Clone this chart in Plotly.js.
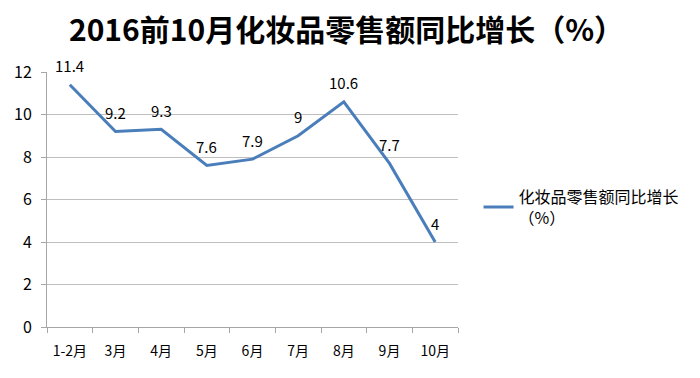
<!DOCTYPE html>
<html><head><meta charset="utf-8">
<script src="https://cdn.plot.ly/plotly-3.0.1.min.js"></script>
<style>html,body{margin:0;padding:0;background:#fff}</style>
</head><body>
<div id="chart" style="width:700px;height:378px"></div>
<script>
const categories = ['1-2月','3月','4月','5月','6月','7月','8月','9月','10月'];
const values = [11.4, 9.2, 9.3, 7.6, 7.9, 9, 10.6, 7.7, 4];
const labels = ['11.4','9.2','9.3','7.6','7.9','9','10.6','7.7','4'];
const seriesName = '化妆品零售额同比增长<br>（%）';
const yTicks = [0,2,4,6,8,10,12];

const font = '"Noto Sans CJK SC", "Noto Sans", sans-serif';
const trace = {
  type: 'scatter', mode: 'lines',
  x: categories, y: values,
  line: {color: '#4a7ebb', width: 3},
  name: seriesName, cliponaxis: false
};
const annotations = categories.map((c, i) => ({
  x: c, y: values[i], text: labels[i], showarrow: false, yshift: 19,
  font: {family: font, size: 15, color: '#000'}
}));
const layout = {
  width: 700, height: 378,
  margin: {l: 47, r: 242, t: 72, b: 51},
  paper_bgcolor: '#fff', plot_bgcolor: '#fff',
  title: {text: '<b>2016前10月化妆品零售额同比增长（%）</b>', x: 0.495, xanchor: 'center', y: 0.92, yanchor: 'middle',
          font: {family: font, size: 30, color: '#000'}},
  annotations: annotations,
  xaxis: {type: 'category', range: [-0.5, 8.5], showgrid: false, showline: true, linecolor: '#a6a6a6',
          ticks: 'outside', ticklen: 5, tickcolor: '#a6a6a6', tickson: 'boundaries', tickangle: 0,
          tickfont: {family: font, size: 14, color: '#000'}, zeroline: false, ticklabelstandoff: 11},
  yaxis: {range: [0, 12], tickvals: yTicks, showgrid: true, gridcolor: '#bfbfbf', gridwidth: 1,
          showline: true, linecolor: '#a6a6a6', ticks: 'outside', ticklen: 5, tickcolor: '#a6a6a6',
          tickfont: {family: font, size: 16, color: '#000'}, zeroline: false, ticklabelstandoff: 6},
  showlegend: true,
  legend: {x: 1.05, xanchor: 'left', y: 0.47, yanchor: 'middle', bgcolor: 'rgba(0,0,0,0)',
           font: {family: font, size: 16, color: '#000'}}
};
Plotly.newPlot('chart', [trace], layout, {displayModeBar: false});
</script>
</body></html>
